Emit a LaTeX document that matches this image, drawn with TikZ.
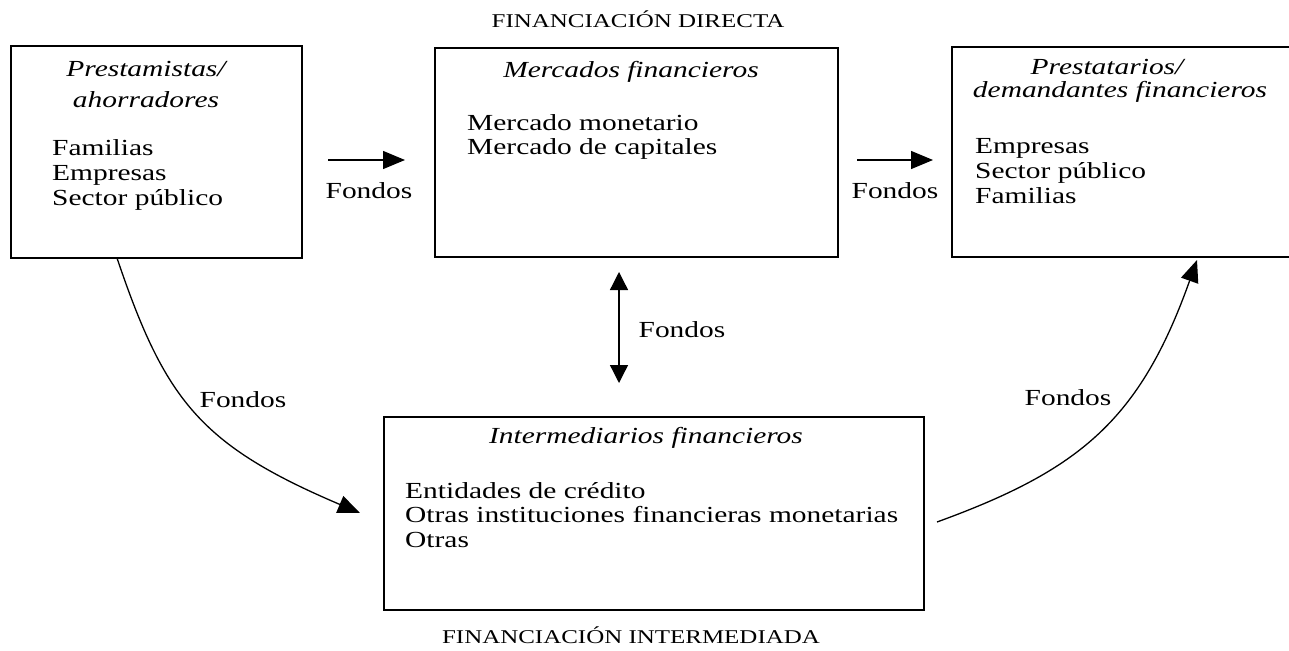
\documentclass[tikz,border=0pt]{standalone}
\usepackage{fontspec}
\setmainfont{Liberation Serif}[FakeStretch=1.28]
\usetikzlibrary{arrows.meta}
\begin{document}
\begin{tikzpicture}[x=1pt,y=-1pt,
  box/.style={draw,line width=1.6pt,inner sep=0pt},
  txt/.style={inner sep=0pt,font=\fontsize{23}{26}\selectfont},
  ttl/.style={inner sep=0pt,font=\fontsize{23}{26}\selectfont\itshape},
  hdr/.style={inner sep=0pt,font=\fontsize{19.5}{22}\selectfont},
  conn/.style={line width=1.3pt,-{Triangle[length=22pt,width=18pt]}},
  both/.style={line width=1.3pt,{Triangle[length=18pt,width=18pt]}-{Triangle[length=18pt,width=18pt]}},
]
\useasboundingbox (0,0) rectangle (1289,650);
% boxes
\node[box,minimum width=291pt,minimum height=212pt] (L) at (156.5,152) {};
\node[box,minimum width=403pt,minimum height=209pt] (M) at (636.5,152.5) {};
\node[box,minimum width=348pt,minimum height=210pt] (R) at (1126,152) {};
\node[box,minimum width=540pt,minimum height=193pt] (B) at (654,513.5) {};
% headers
\node[hdr,anchor=base] (h1) at (638,28) {FINANCIACIÓN DIRECTA};
\node[hdr,anchor=base] (h2) at (631,643) {FINANCIACIÓN INTERMEDIADA};
% left box text
\node[ttl,anchor=base] (Lt1) at (146,77) {Prestamistas/};
\node[ttl,anchor=base] (Lt2) at (146,107) {ahorradores};
\node[txt,anchor=base west] (Li1) at (52,155) {Familias};
\node[txt,anchor=base west] (Li2) at (52,180) {Empresas};
\node[txt,anchor=base west] (Li3) at (52,205) {Sector público};
% middle box text
\node[ttl,anchor=base] (Mt) at (631,78) {Mercados financieros};
\node[txt,anchor=base west] (Mi1) at (467,131) {Mercado monetario};
\node[txt,anchor=base west] (Mi2) at (467,154) {Mercado de capitales};
% right box text
\node[ttl,anchor=base] (Rt1) at (1107,75) {Prestatarios/};
\node[ttl,anchor=base] (Rt2) at (1120,98) {demandantes financieros};
\node[txt,anchor=base west] (Ri1) at (975,153) {Empresas};
\node[txt,anchor=base west] (Ri2) at (975,178) {Sector público};
\node[txt,anchor=base west] (Ri3) at (975,203) {Familias};
% bottom box text
\node[ttl,anchor=base] (Bt) at (646,443) {Intermediarios financieros};
\node[txt,anchor=base west] (Bi1) at (405,498) {Entidades de crédito};
\node[txt,anchor=base west] (Bi2) at (405,522) {Otras instituciones financieras monetarias};
\node[txt,anchor=base west] (Bi3) at (405,547) {Otras};
% Fondos labels
\node[txt,anchor=base] (f1) at (369,198) {Fondos};
\node[txt,anchor=base] (f2) at (895,198) {Fondos};
\node[txt,anchor=base] (f3) at (682,337) {Fondos};
\node[txt,anchor=base] (f4) at (243,407) {Fondos};
\node[txt,anchor=base] (f5) at (1068,405) {Fondos};
% connector ends
\coordinate (a1s) at (328,160);
\coordinate (a1e) at (405,160);
\coordinate (a2s) at (857,160);
\coordinate (a2e) at (933,160);
\coordinate (v1) at (619,272);
\coordinate (v2) at (619,383);
\coordinate (c1s) at (117,258);
\coordinate (c1e) at (360,513);
\coordinate (c2s) at (937,522);
\coordinate (c2e) at (1197,260);
% connectors
\draw[conn] (a1s) -- (a1e);
\draw[conn] (a2s) -- (a2e);
\draw[both] (v1) -- (v2);
\draw[conn] (c1s) .. controls (165,400) and (200,445) .. (c1e);
\draw[conn] (c2s) .. controls (1080,470) and (1140,420) .. (c2e);
\end{tikzpicture}
\end{document}
